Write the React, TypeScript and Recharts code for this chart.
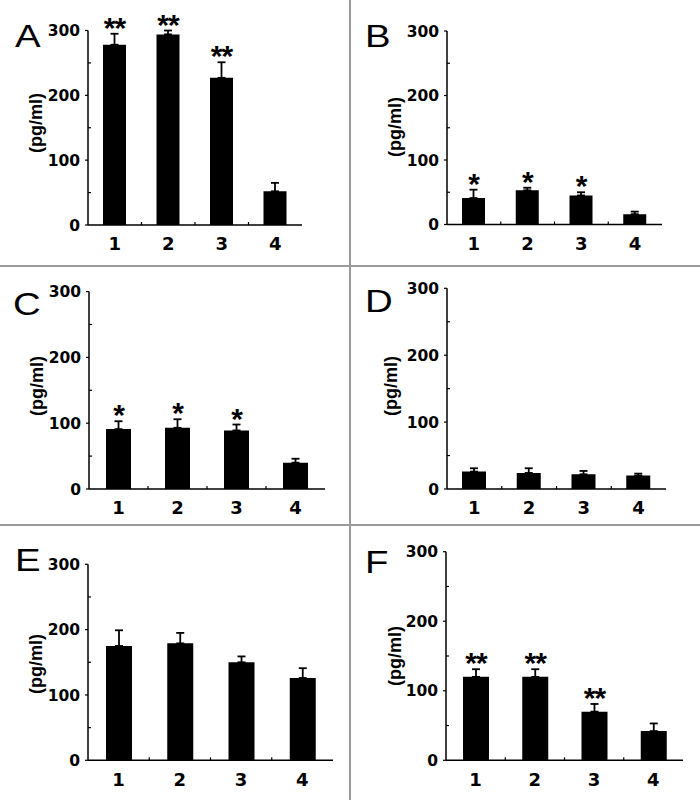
import { Bar, BarChart, ErrorBar, LabelList, XAxis, YAxis } from "recharts";

const categories = ["1", "2", "3", "4"];
const yTicks = [0, 50, 100, 150, 200, 250, 300];
const yLabelledTicks = [0, 100, 200, 300];
const yUnit = "(pg/ml)";

const aMeans = [278, 294, 227, 52];
const aErrors = [17, 6, 24, 13];
const aStars = ["**", "**", "**", ""];

const bMeans = [41, 53, 45, 16];
const bErrors = [13, 4, 5, 4];
const bStars = ["*", "*", "*", ""];

const cMeans = [91, 93, 89, 40];
const cErrors = [12, 13, 9, 6];
const cStars = ["*", "*", "*", ""];

const dMeans = [26, 24, 22, 20];
const dErrors = [5, 7, 5, 3];
const dStars = ["", "", "", ""];

const eMeans = [175, 179, 150, 126];
const eErrors = [24, 16, 9, 15];
const eStars = ["", "", "", ""];

const fMeans = [120, 120, 70, 42];
const fErrors = [11, 11, 11, 11];
const fStars = ["**", "**", "**", ""];

// layout of each panel (pixels, local to the panel)
const panels = [
  { letter: "A", means: aMeans, errors: aErrors, stars: aStars, left: 0, top: 0, w: 349, h: 265, axisX: 88, top300: 30.5, zero: 225, end: 302, barSize: 23, lx: 15, lb: 47, ux: 37, uy: 123 },
  { letter: "B", means: bMeans, errors: bErrors, stars: bStars, left: 350, top: 0, w: 350, h: 265, axisX: 97, top300: 31, zero: 224.5, end: 312, barSize: 23, lx: 15, lb: 47, ux: 46, uy: 127 },
  { letter: "C", means: cMeans, errors: cErrors, stars: cStars, left: 0, top: 266, w: 349, h: 258, axisX: 89, top300: 25.6, zero: 223, end: 325, barSize: 25, lx: 13, lb: 49, ux: 38, uy: 120 },
  { letter: "D", means: dMeans, errors: dErrors, stars: dStars, left: 350, top: 266, w: 350, h: 258, axisX: 97, top300: 22.3, zero: 223, end: 316, barSize: 24, lx: 15, lb: 46, ux: 42, uy: 120 },
  { letter: "E", means: eMeans, errors: eErrors, stars: eStars, left: 0, top: 526, w: 349, h: 274, axisX: 88, top300: 38.3, zero: 234.3, end: 333, barSize: 26, lx: 15, lb: 45, ux: 37, uy: 138 },
  { letter: "F", means: fMeans, errors: fErrors, stars: fStars, left: 350, top: 526, w: 350, h: 274, axisX: 96, top300: 25.7, zero: 234.3, end: 333, barSize: 26, lx: 15, lb: 46.5, ux: 46, uy: 130 },
];

const BOLD = { fontFamily: "DejaVu Sans", fontWeight: "bold" as const };

function YTick(props: any) {
  const { x, y, payload } = props;
  const v = payload.value;
  if (yLabelledTicks.includes(v)) {
    return (
      <g>
        <line x1={x - 3} x2={x} y1={y} y2={y} stroke="#000" strokeWidth={1.2} />
        <text x={x - 8} y={y} dy="0.36em" textAnchor="end" fontSize={15.5} fill="#000" {...BOLD}>{v}</text>
      </g>
    );
  }
  return <line x1={x} x2={x + 3} y1={y} y2={y} stroke="#000" strokeWidth={1.2} />;
}

function makeXTick(band: number) {
  return (props: any) => {
    const { x, y, payload, index } = props;
    return (
      <g>
        <text x={x} y={y + 19} dy="0.36em" textAnchor="middle" fontSize={18} fill="#000" {...BOLD}>{payload.value}</text>
        {index < categories.length - 1 && (
          <line x1={x + band / 2} x2={x + band / 2} y1={y} y2={y - 3} stroke="#000" strokeWidth={1.2} />
        )}
      </g>
    );
  };
}

function StarLabel(props: any) {
  const { x, y, width, value } = props;
  if (!value) return null;
  return (
    <text x={x + width / 2} y={y + 4} textAnchor="middle" fontSize={30} fill="#000" fontFamily="Liberation Sans" fontWeight="bold" letterSpacing={-1}>
      {value}
    </text>
  );
}

function Panel({ p }: { p: (typeof panels)[number] }) {
  const data = categories.map((c, i) => ({
    name: c,
    mean: p.means[i],
    err: [0, p.errors[i]],
    cap: p.errors[i],
    star: p.stars[i],
  }));
  const yW = 40;
  const xH = 30;
  const band = (p.end - p.axisX) / categories.length;
  return (
    <div style={{ position: "absolute", left: p.left, top: p.top, width: p.w, height: p.h }}>
      <BarChart
        width={p.w}
        height={p.h}
        data={data}
        margin={{ top: p.top300, left: p.axisX - yW, right: p.w - p.end, bottom: p.h - p.zero - xH }}
        barCategoryGap="55%"
      >
        <XAxis
          dataKey="name"
          height={xH}
          axisLine={{ stroke: "#000", strokeWidth: 1.5 }}
          tickLine={false}
          tickSize={0}
          tickMargin={0}
          tick={makeXTick(band)}
          interval={0}
        />
        <YAxis
          width={yW}
          domain={[0, 300]}
          ticks={yTicks}
          allowDataOverflow
          interval={0}
          axisLine={{ stroke: "#000", strokeWidth: 1.5 }}
          tickLine={false}
          tickSize={0}
          tickMargin={0}
          tick={<YTick />}
        />
        <Bar dataKey="mean" stackId="s" fill="#000" barSize={p.barSize} isAnimationActive={false}>
          <ErrorBar dataKey="err" direction="y" width={4} stroke="#000" strokeWidth={1.8} />
        </Bar>
        <Bar dataKey="cap" stackId="s" fill="transparent" barSize={p.barSize} isAnimationActive={false}>
          <LabelList dataKey="star" content={<StarLabel />} />
        </Bar>
      </BarChart>
      <svg width={p.w} height={p.h} style={{ position: "absolute", left: 0, top: 0, pointerEvents: "none" }}>
        <text transform={`translate(${p.lx},${p.lb}) scale(1.2,1)`} fontFamily="Liberation Sans" fontSize={32} fill="#000">
          {p.letter}
        </text>
        <text
          transform={`translate(${p.ux},${p.uy}) rotate(-90)`}
          textAnchor="middle"
          dy="0.26em"
          fontFamily="Liberation Sans"
          fontWeight="bold"
          fontSize={18}
          fill="#000"
        >
          {yUnit}
        </text>
      </svg>
    </div>
  );
}

export default function App() {
  return (
    <div style={{ position: "relative", width: 700, height: 800, background: "#fff", overflow: "hidden" }}>
      <style>{`body{margin:0}`}</style>
      {panels.map((p) => (
        <Panel key={p.letter} p={p} />
      ))}
      <div style={{ position: "absolute", left: 349, top: 0, width: 2, height: 800, background: "#9a9a9a" }} />
      <div style={{ position: "absolute", left: 0, top: 265, width: 700, height: 2, background: "#9a9a9a" }} />
      <div style={{ position: "absolute", left: 0, top: 524, width: 700, height: 2, background: "#9a9a9a" }} />
    </div>
  );
}
